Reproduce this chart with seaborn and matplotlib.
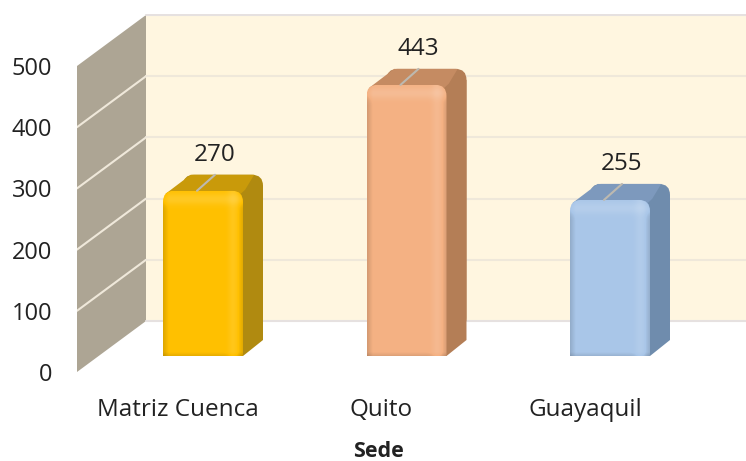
import numpy as np
import pandas as pd
import matplotlib
matplotlib.use('Agg')
import matplotlib.pyplot as plt
import seaborn as sns
from matplotlib.patches import FancyBboxPatch, Polygon

sedes = ['Matriz Cuenca', 'Quito', 'Guayaquil']
totales = [270, 443, 255]
ticks = [0, 100, 200, 300, 400, 500]
front_colors = ['#FFC000', '#F4B183', '#A9C6E8']
top_colors = ['#C99A0A', '#C58B62', '#7D99BD']
side_colors = ['#B08A10', '#B47E56', '#6F8CAD']

W, H = 746, 461
px_x = 203.5      # pixels per category
px_y = 0.612      # pixels per unit

sns.set_theme(style='white')
plt.rcParams['font.family'] = ['Open Sans', 'DejaVu Sans']

fig = plt.figure(figsize=(W / 100, H / 100), dpi=100)
ax = fig.add_axes([77 / W, (H - 372) / H, 669 / W, 358 / H])

df = pd.DataFrame({'Sede': sedes, 'Total': totales})
sns.barplot(data=df, x='Sede', y='Total', hue='Sede', palette=front_colors, saturation=1,
            width=80 / px_x, legend=False, ax=ax, zorder=3)
bars = list(ax.patches)

# limits so the bar baseline sits in the middle of the floor
front = -16 / px_y    # y shift of the left edge of the side wall
back = 35 / px_y      # y shift of the back wall
y_low = front
y_high = front + 358 / px_y
x_low = -126 / px_x
x_high = x_low + 669 / px_x


def xp(p):
    return (p - 203) / px_x


# walls
ax.add_patch(Polygon([(xp(146), back), (x_high, back), (x_high, 500 + back), (xp(146), 500 + back)],
                     fc='#FFF6E0', ec='none', zorder=0.5))
ax.add_patch(Polygon([(xp(77), front), (xp(146), back), (xp(146), 500 + back), (xp(77), 500 + front)],
                     fc='#ADA594', ec='none', zorder=0.5))
for t in ticks:
    lc = '#E6E1E0' if t in (0, 500) else '#EFE8DA'
    ax.plot([xp(146), x_high], [t + back, t + back], color=lc, lw=1.5, zorder=0.6)
    if 0 < t < 500:
        ax.plot([xp(77), xp(146)], [t + front, t + back], color='#EFE8DA', lw=1.5, zorder=0.6)

# depth of the bars
dx = 20 / px_x
dy = 16 / px_y
rx = 11 / px_x    # corner radius in x units
ry = 11 / px_y
aspect = px_x / px_y  # makes the corners round on screen

for i, p in enumerate(bars):
    x, w, h = p.get_x(), p.get_width(), p.get_height()
    p.set_edgecolor('none')
    box = dict(boxstyle=f'round,pad=0,rounding_size={rx}', mutation_aspect=aspect,
               transform=ax.transData)

    # back silhouette, side and top faces
    ax.add_patch(FancyBboxPatch((x + dx, dy + ry), w, h - ry, fc=side_colors[i], ec='none', zorder=2, **box))
    ax.add_patch(Polygon([(x + w - rx, 0), (x + w, 0), (x + w + dx, dy), (x + w + dx, h + dy - ry),
                          (x + w - rx, h)], fc=side_colors[i], ec='none', zorder=2))
    ax.add_patch(Polygon([(x + rx * 0.2, h - ry * 0.3), (x + dx + rx * 0.7, h + dy), (x + w + dx - rx * 0.8, h + dy),
                          (x + w + rx * 0.2, h + ry * 0.1), (x + w - rx, h - ry)],
                         fc=top_colors[i], ec='none', zorder=2.2))

    # front face with rounded top corners and a soft bevel, square at the floor
    clip = FancyBboxPatch((x, -ry * 2), w, h + ry * 2, fc='none', ec='none', **box)
    ax.add_patch(clip)
    p.set_clip_path(clip)

    nx, ny = 80, max(int(h * px_y), 2)
    u = (np.arange(nx) + 0.5)
    v = (np.arange(ny) + 0.5)
    shade = np.zeros((ny, nx))
    shade -= 0.14 * np.clip(1 - u / 6, 0, 1)[None, :]
    shade += 0.10 * np.exp(-((u - 70) / 5) ** 2)[None, :]
    shade -= 0.12 * np.clip((u - 74) / 6, 0, 1)[None, :]
    shade += 0.14 * np.exp(-((v - 9) / 6) ** 2)[:, None]
    shade -= 0.10 * np.clip((v - (ny - 4)) / 4, 0, 1)[:, None]
    rgba = np.zeros((ny, nx, 4))
    rgba[..., :3] = (shade > 0)[..., None]
    rgba[..., 3] = np.clip(np.abs(shade), 0, 1)
    im = ax.imshow(rgba, extent=(x, x + w, 0, h), origin='upper', aspect='auto', zorder=3.5,
                   interpolation='bilinear')
    im.set_clip_path(clip)

    # leader line and value label
    c = x + w / 2
    ax.plot([c - 6 / px_x, c + dx - 8 / px_x], [h, h + dy], color='#BDB9B0', lw=1.5, zorder=4)
    ax.annotate(str(totales[i]), (c, h), xytext=(12 * 0.72, 36 * 0.72), textcoords='offset points',
                ha='center', va='center', fontsize=17.5, color='#222222', zorder=5)

ax.set_xlim(x_low, x_high)
ax.set_ylim(y_low, y_high)
ax.set_yticks([t + front for t in ticks], [str(t) for t in ticks])
ax.set_xticks([j - 25 / px_x for j in range(len(sedes))], sedes)
ax.tick_params(axis='y', length=0, pad=18, labelsize=17, labelcolor='#222222')
ax.tick_params(axis='x', length=0, pad=19, labelsize=17.5, labelcolor='#222222')
ax.set_xlabel('Sede', fontsize=15.5, fontweight='bold', color='#222222')
ax.xaxis.set_label_coords((378 - 77) / 669, -(441 - 372) / 358)
ax.set_ylabel('')
ax.patch.set_visible(False)
sns.despine(ax=ax, left=True, bottom=True, top=True, right=True)

fig.savefig('out.png', dpi=100)
